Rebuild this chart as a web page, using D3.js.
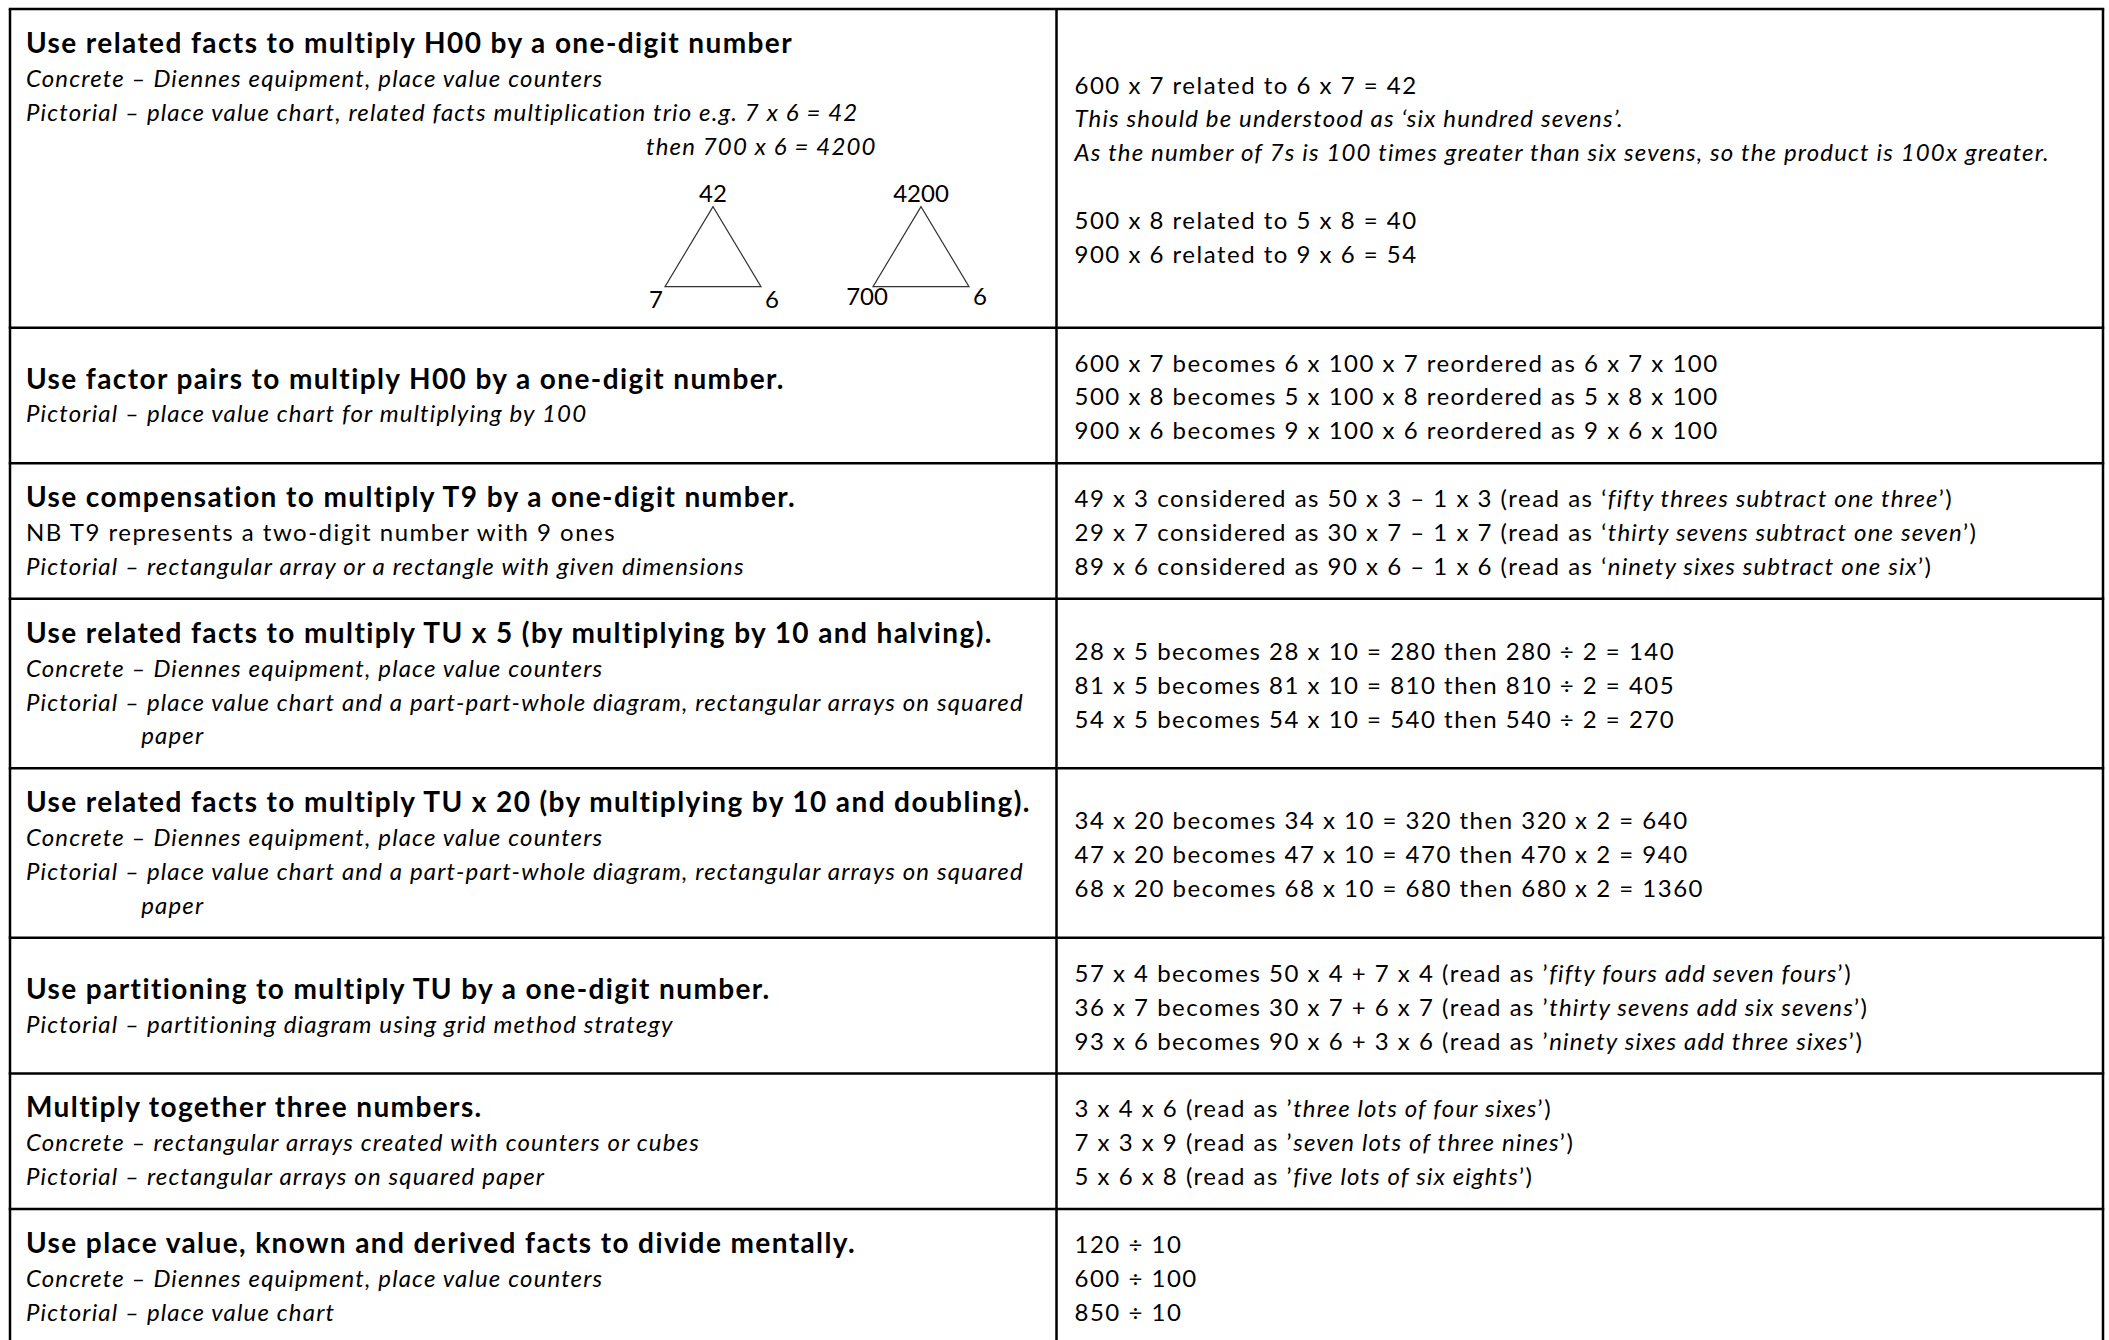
<html>
  <head>
    <!-- Load d3.js -->
    <script src="https://d3js.org/d3.v7.min.js"></script>
    <style>
      body { margin: 0; background: #fff; }
      text { fill: #000; }
    </style>
  </head>
  <body>
    <div id="chart"></div>
    <script>
      // 1. Table content. Text between underscores is set in italic,
      //    a leading tab means the line hangs under the text after "Pictorial – ".
      const headings = [
        "Use related facts to multiply H00 by a one-digit number",
        "Use factor pairs to multiply H00 by a one-digit number.",
        "Use compensation to multiply T9 by a one-digit number.",
        "Use related facts to multiply TU x 5 (by multiplying by 10 and halving).",
        "Use related facts to multiply TU x 20 (by multiplying by 10 and doubling).",
        "Use partitioning to multiply TU by a one-digit number.",
        "Multiply together three numbers.",
        "Use place value, known and derived facts to divide mentally."
      ];

      const methods = [
        ["_Concrete – Diennes equipment, place value counters_",
         "_Pictorial – place value chart, related facts multiplication trio e.g. 7 x 6 = 42_"],
        ["_Pictorial – place value chart for multiplying by 100_"],
        ["NB T9 represents a two-digit number with 9 ones",
         "_Pictorial – rectangular array or a rectangle with given dimensions_"],
        ["_Concrete – Diennes equipment, place value counters_",
         "_Pictorial – place value chart and a part-part-whole diagram, rectangular arrays on squared_",
         "\t_paper_"],
        ["_Concrete – Diennes equipment, place value counters_",
         "_Pictorial – place value chart and a part-part-whole diagram, rectangular arrays on squared_",
         "\t_paper_"],
        ["_Pictorial – partitioning diagram using grid method strategy_"],
        ["_Concrete – rectangular arrays created with counters or cubes_",
         "_Pictorial – rectangular arrays on squared paper_"],
        ["_Concrete – Diennes equipment, place value counters_",
         "_Pictorial – place value chart_"]
      ];

      const examples = [
        ["600 x 7 related to 6 x 7 = 42",
         "_This should be understood as ‘six hundred sevens’._",
         "_As the number of 7s is 100 times greater than six sevens, so the product is 100x greater._",
         "",
         "500 x 8 related to 5 x 8 = 40",
         "900 x 6 related to 9 x 6 = 54"],
        ["600 x 7 becomes 6 x 100 x 7 reordered as 6 x 7 x 100",
         "500 x 8 becomes 5 x 100 x 8 reordered as 5 x 8 x 100",
         "900 x 6 becomes 9 x 100 x 6 reordered as 9 x 6 x 100"],
        ["49 x 3 considered as 50 x 3 – 1 x 3 (read as ‘_fifty threes subtract one three_’)",
         "29 x 7 considered as 30 x 7 – 1 x 7 (read as ‘_thirty sevens subtract one seven_’)",
         "89 x 6 considered as 90 x 6 – 1 x 6 (read as ‘_ninety sixes subtract one six_’)"],
        ["28 x 5 becomes 28 x 10 = 280 then 280 ÷ 2 = 140",
         "81 x 5 becomes 81 x 10 = 810 then 810 ÷ 2 = 405",
         "54 x 5 becomes 54 x 10 = 540 then 540 ÷ 2 = 270"],
        ["34 x 20 becomes 34 x 10 = 320 then 320 x 2 = 640",
         "47 x 20 becomes 47 x 10 = 470 then 470 x 2 = 940",
         "68 x 20 becomes 68 x 10 = 680 then 680 x 2 = 1360"],
        ["57 x 4 becomes 50 x 4 + 7 x 4 (read as ’_fifty fours add seven fours_’)",
         "36 x 7 becomes 30 x 7 + 6 x 7 (read as ’_thirty sevens add six sevens_’)",
         "93 x 6 becomes 90 x 6 + 3 x 6 (read as ’_ninety sixes add three sixes_’)"],
        ["3 x 4 x 6 (read as ’_three lots of four sixes_’)",
         "7 x 3 x 9 (read as ’_seven lots of three nines_’)",
         "5 x 6 x 8 (read as ’_five lots of six eights_’)"],
        ["120 ÷ 10",
         "600 ÷ 100",
         "850 ÷ 10"]
      ];

      // multiplication trios drawn in the first row
      const trioNote = "_then 700 x 6 = 4200_";
      const trioWholes = ["42", "4200"];
      const trioParts = [["7", "6"], ["700", "6"]];

      // 2. Page setup
      const width = 2109;
      const height = 1340;
      const fontFamily = "Lato, 'Open Sans', sans-serif";
      const fontSize = 24;
      const headSize = 28;
      const spRegular = 1.5, spItalic = 1.15, spBold = 1.4;
      const lineH = 33.9;
      const baseOff = 10;
      const pad = 16;
      const diagramUnits = 4.4;

      const svg = d3.create('svg')
        .attr('width', width)
        .attr('height', height)
        .style('font-family', fontFamily)
        .style('font-size', fontSize + 'px');

      document.getElementById("chart").appendChild(svg.node());

      // how many text lines each row needs (left block includes the trio diagram)
      const leftCount = headings.map((h, i) =>
        1 + methods[i].length + (i === 0 ? 1 + diagramUnits : 0));
      const rowLines = leftCount.map((n, i) => Math.max(n, examples[i].length));
      const starts = [0].concat(Array.from(d3.cumsum(rowLines.map(n => n + 1))));

      // 3. Scales: line units down the page, two columns across
      const yScale = d3.scaleLinear()
        .domain([0, 1])
        .range([9, 9 + lineH]);

      const xScale = d3.scaleBand()
        .domain(['method', 'example'])
        .range([10, 2103]);

      // 4. Grid
      const grid = svg.append('g')
        .attr('stroke', '#000')
        .attr('stroke-width', 2.5)
        .attr('fill', 'none');

      grid.selectAll('line.h')
        .data(starts)
        .join('line')
        .attr('class', 'h')
        .attr('x1', xScale.range()[0] - 1.25)
        .attr('x2', xScale.range()[1] + 1.25)
        .attr('y1', d => yScale(d))
        .attr('y2', d => yScale(d));

      grid.selectAll('line.v')
        .data([xScale.range()[0], xScale('example'), xScale.range()[1]])
        .join('line')
        .attr('class', 'v')
        .attr('x1', d => d)
        .attr('x2', d => d)
        .attr('y1', yScale(0))
        .attr('y2', yScale(starts[starts.length - 1]));

      // 5. Text helpers
      function addLine(g, str, x0, yy, bold) {
        const t = g.append('text')
          .attr('x', x0)
          .attr('y', yy)
          .style('font-weight', bold ? 700 : 400)
          .style('font-size', (bold ? headSize : fontSize) + 'px');
        str.split('_').forEach((part, j) => {
          if (!part) return;
          const ital = j % 2 === 1;
          t.append('tspan')
            .text(part)
            .style('font-style', ital ? 'italic' : 'normal')
            .style('letter-spacing', (bold ? spBold : ital ? spItalic : spRegular) + 'px');
        });
        return t;
      }

      // width of the "Pictorial – " label for the hanging indent
      const probe = svg.append('text')
        .style('font-style', 'italic')
        .style('letter-spacing', spItalic + 'px')
        .text('Pictorial – ');
      const hang = probe.node().getComputedTextLength() + spItalic;
      probe.remove();

      const body = svg.append('g');

      headings.forEach((h, i) => {
        const centerU = starts[i] + (rowLines[i] + 1) / 2;

        // left column: heading, methods (and for row 1 the trio note)
        const left = [h].concat(methods[i]);
        if (i === 0) left.push(trioNote);
        const nL = leftCount[i];
        const lx = xScale('method') + pad;
        left.forEach((str, k) => {
          const yy = yScale(centerU - (nL - 1) / 2 + k) + baseOff;
          if (i === 0 && str === trioNote) {
            addLine(body, str, lx + 620, yy, false);
          } else if (str.startsWith('\t')) {
            addLine(body, str.slice(1), lx + hang, yy, false);
          } else {
            addLine(body, str, lx, yy, k === 0);
          }
        });

        // right column: worked examples
        const nR = examples[i].length;
        const rx = xScale('example') + pad + 2;
        examples[i].forEach((str, k) => {
          if (!str) return;
          const yy = yScale(centerU - (nR - 1) / 2 + k) + baseOff;
          addLine(body, str, rx, yy, false);
        });
      });

      // 6. Trio triangles under the first row's text
      const lastBase = yScale(starts[0] + (rowLines[0] + 1) / 2 - (leftCount[0] - 1) / 2 + 3) + baseOff;
      const trioX = d3.scalePoint()
        .domain(trioWholes)
        .range([xScale('method') + 703, xScale('method') + 911]);
      const half = 48;

      const trio = svg.append('g')
        .selectAll('g')
        .data(trioWholes)
        .join('g')
        .attr('transform', d => `translate(${trioX(d)},${lastBase + 1})`);

      trio.append('path')
        .attr('d', `M0,51 L${-half},131 L${half},131 Z`)
        .attr('fill', 'none')
        .attr('stroke', '#333')
        .attr('stroke-width', 1.2);

      trio.append('text')
        .attr('x', 0)
        .attr('y', 46)
        .attr('text-anchor', 'middle')
        .text(d => d);

      trio.append('text')
        .attr('x', (d, i) => -half - 9 + i * 3)
        .attr('y', (d, i) => 152 - i * 3)
        .attr('text-anchor', 'middle')
        .text((d, i) => trioParts[i][0]);

      trio.append('text')
        .attr('x', half + 11)
        .attr('y', (d, i) => 152 - i * 3)
        .attr('text-anchor', 'middle')
        .text((d, i) => trioParts[i][1]);
    </script>
  </body>
</html>
